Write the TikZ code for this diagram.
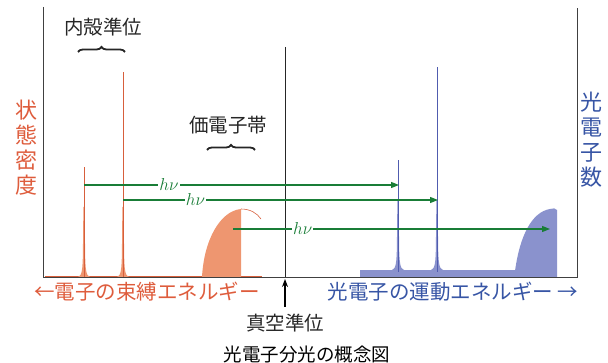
\documentclass[tikz,border=0pt]{standalone}
\usepackage{fontspec}
\newfontfamily\jp{Noto Sans CJK JP}
\usetikzlibrary{arrows.meta,decorations.pathreplacing}
\definecolor{otext}{RGB}{222,92,60}
\definecolor{ofill}{RGB}{238,150,112}
\definecolor{oline}{RGB}{215,95,60}
\definecolor{btext}{RGB}{55,85,165}
\definecolor{bfill}{RGB}{138,146,205}
\definecolor{bline}{RGB}{80,92,175}
\definecolor{gline}{RGB}{25,125,55}
\newcommand{\mypeak}[3]{% x, base, colour
  \fill[#3] ({#1-6},{#2}) .. controls ({#1-2},{#2-1}) and ({#1-1.4},{#2-8}) .. ({#1-1.1},{#2-24})
     -- ({#1-0.6},{#2-70}) -- ({#1+0.6},{#2-70}) -- ({#1+1.1},{#2-24})
     .. controls ({#1+1.4},{#2-8}) and ({#1+2},{#2-1}) .. ({#1+6},{#2}) -- cycle;}
\begin{document}
\begin{tikzpicture}[x=1pt,y=-1pt,
  axis/.style={draw=black!75, line width=0.8pt},
  harrow/.style={draw=gline, line width=1.3pt, -{Triangle[length=8pt,width=6pt]}},
  hlabel/.style={fill=white, inner sep=1pt, text=gline, font=\fontsize{18}{18}\selectfont},
  lbl/.style={font=\jp\fontsize{19.5}{21}\selectfont, text=black!85, inner sep=0pt},
  axlbl/.style={font=\jp\fontsize{20.5}{22}\selectfont, inner sep=0pt},
  vlbl/.style={font=\jp\fontsize{22}{25}\selectfont, align=center, inner sep=0pt},
  mybrace/.style={decorate, decoration={brace, amplitude=5pt}, line width=1.8pt, draw=black!85}
]
\useasboundingbox (0,0) rectangle (608,363);
% spectra (orange)
\draw[oline, line width=0.9pt] (45,276) -- (262,276);
\mypeak{84}{277}{ofill}
\mypeak{123}{277}{ofill}
\draw[oline, line width=0.7pt] (84,277) -- (84,167);
\draw[oline, line width=0.8pt] (123,277) -- (123,72);
\fill[ofill] (202,277) .. controls (204,240) and (220,211) .. (241,209) -- (241,277) -- cycle;
\draw[oline, line width=0.6pt] (241,209) .. controls (250,209) and (257,213) .. (261,219);
% spectra (blue)
\fill[bfill] (360,277) rectangle (557,270);
\mypeak{398}{270}{bfill}
\mypeak{437}{270}{bfill}
\draw[bline, line width=0.8pt] (398,272) -- (398,160);
\draw[bline, line width=0.9pt] (437,272) -- (437,67);
\fill[bfill] (515,271) .. controls (520,235) and (532,212) .. (550,209) .. controls (553,208) and (556,208) .. (557,210) -- (557,277) -- (515,277) -- cycle;
% axes
\coordinate (lt) at (43,7);
\coordinate (o) at (43,277);
\coordinate (r) at (577,277);
\coordinate (rt) at (577,8);
\coordinate (vt) at (285,47);
\coordinate (vb) at (285,277);
\draw[axis] (lt) -- (o) -- (r) -- (rt);
\draw[draw=black!85, line width=0.8pt] (vt) -- (vb);
% green arrows
\coordinate (s1) at (84,185);  \coordinate (e1) at (399,185);
\coordinate (s2) at (123,200); \coordinate (e2) at (438,200);
\coordinate (s3) at (233,229); \coordinate (e3) at (550,229);
\draw[harrow] (s1) -- node[hlabel, pos=0.27] {$h\nu$} (e1);
\draw[harrow] (s2) -- node[hlabel, pos=0.23] {$h\nu$} (e2);
\draw[harrow] (s3) -- node[hlabel, pos=0.22] {$h\nu$} (e3);
% labels
\node[lbl] (core) at (103,27) {内殻準位};
\node[lbl] (val) at (228,125) {価電子帯};
\draw[mybrace] (78,52) -- (125,52);
\draw[mybrace] (207,150) -- (255,150);
\node[vlbl, text=otext] (dos) at (27,148) {状\\態\\密\\度};
\node[vlbl, text=btext] (npe) at (591,140) {光\\電\\子\\数};
\node[axlbl, text=otext] (be) at (147,292) {←電子の束縛エネルギー};
\node[axlbl, text=btext] (ke) at (453,292) {光電子の運動エネルギー →};
\node[lbl] (vac) at (285,323) {真空準位};
\coordinate (va) at (285,307);
\draw[draw=black, line width=1.6pt, -{Stealth[length=8pt,width=6pt]}] (va) -- (285,279);
\node[font=\jp\fontsize{18.5}{19}\selectfont, inner sep=0pt] (cap) at (307,355) {光電子分光の概念図};
\end{tikzpicture}
\end{document}
